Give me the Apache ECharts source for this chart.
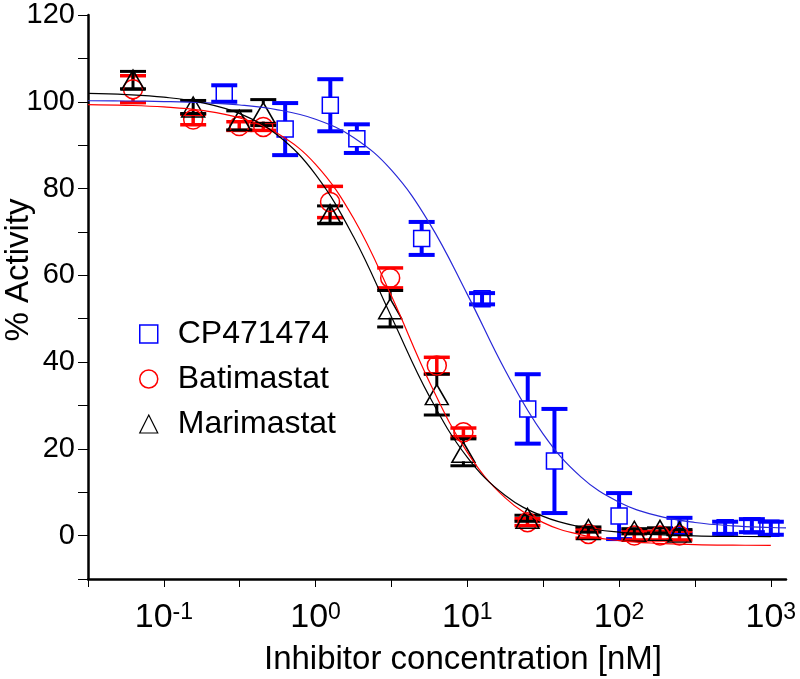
<!DOCTYPE html>
<html><head><meta charset="utf-8">
<script src="https://cdn.jsdelivr.net/npm/echarts@6/dist/echarts.min.js"></script>
<style>html,body{margin:0;padding:0;background:#fff}#chart{width:800px;height:679px}</style>
</head><body><div id="chart"></div>
<script>
// ---- data (concentration in nM, % activity, error) ----
const seriesNames = ['CP471474', 'Batimastat', 'Marimastat'];

const cpConc     = [0.25, 0.63, 1.25, 1.87, 5.0, 12.5, 25, 37.5, 100, 250, 500, 750, 1000];
const cpActivity = [101.9, 93.7, 99.2, 91.5, 68.5, 54.6, 29.2, 17.2, 4.5, 2.3, 1.8, 2.3, 1.7];
const cpError    = [1.9, 6.0, 6.0, 3.3, 3.8, 1.3, 8.0, 12.0, 5.3, 1.8, 1.4, 1.5, 1.5];

const batConc     = [0.0626, 0.156, 0.314, 0.452, 1.245, 3.10, 6.29, 9.42, 24.9, 62.8, 126, 186, 250];
const batActivity = [102.9, 95.9, 94.4, 94.2, 76.9, 59.4, 39.2, 23.8, 3.1, 0.4, 0.0, 0.0, 0.0];
const batError    = [3.1, 1.2, 1.0, 0.8, 3.6, 2.3, 1.9, 1.0, 0.8, 1.0, 1.0, 1.0, 1.0];

const marConc     = [0.0626, 0.156, 0.314, 0.452, 1.245, 3.10, 6.29, 9.42, 24.9, 62.8, 126, 186, 250];
const marActivity = [105.0, 98.8, 95.7, 97.5, 74.0, 52.3, 32.5, 19.2, 4.0, 1.4, 1.0, 1.2, 0.8];
const marError    = [2.0, 1.5, 2.2, 3.0, 2.0, 4.2, 4.7, 3.1, 0.7, 0.6, 0.6, 0.6, 0.6];

// fitted curves (x as log10 of concentration)
const cpFitLog  = [-1.5, -1.25, -1, -0.75, -0.5, -0.25, 0, 0.25, 0.5, 0.75, 1, 1.25, 1.5, 1.75, 2, 2.25, 2.5, 2.75, 3, 3.1];
const cpFit     = [100.24, 100.18, 100.05, 99.79, 99.25, 98.15, 95.98, 91.79, 84.23, 72.04, 55.61, 38.05, 23.40, 13.49, 7.70, 4.61, 3.03, 2.25, 1.87, 1.77];
const fitLog    = [-1.5, -1.25, -1, -0.75, -0.5, -0.25, 0, 0.25, 0.5, 0.75, 1, 1.25, 1.5, 1.75, 2, 2.25, 2.5, 2.75, 3];
const batFit    = [99.36, 99.19, 98.82, 98.02, 96.28, 92.67, 85.57, 73.14, 55.21, 35.43, 19.17, 8.71, 3.00, 0.18, -1.16, -1.78, -2.06, -2.19, -2.25];
const marFit    = [101.94, 101.66, 101.06, 99.81, 97.26, 92.27, 83.20, 68.87, 50.40, 32.09, 18.04, 9.26, 4.44, 1.99, 0.79, 0.22, -0.05, -0.18, -0.25];

// axis ticks
const xTickExponents  = [-1.5, -1, -0.5, 0, 0.5, 1, 1.5, 2, 2.5, 3];
const xLabelExponents = [-1, 0, 1, 2, 3];
const yTickValues  = [-10, 0, 10, 20, 30, 40, 50, 60, 70, 80, 90, 100, 110, 120];
const yLabelValues = [0, 20, 40, 60, 80, 100, 120];

// ---- styles ----
const FONT = "'Liberation Sans', Arial, sans-serif";
const BLUE = '#0000ff', RED = '#ff0000', BLACK = '#000000';

function errorBars(name, conc, vals, errs, color, width, gap) {
  return {
    type: 'custom', name: name + ' error', z: 2, silent: true, clip: false,
    encode: { x: 0, y: 1 },
    data: conc.map((c, i) => [Math.log10(c), vals[i], errs[i]]),
    renderItem(params, api) {
      const x = api.value(0), y = api.value(1), e = api.value(2);
      const c = api.coord([x, y]);
      const t = api.coord([x, y + e]);
      const b = api.coord([x, y - e]);
      const hw = 13;
      const style = { stroke: color, lineWidth: width, fill: null };
      const ch = [
        { type: 'line', shape: { x1: t[0] - hw, y1: t[1], x2: t[0] + hw, y2: t[1] }, style },
        { type: 'line', shape: { x1: b[0] - hw, y1: b[1], x2: b[0] + hw, y2: b[1] }, style }
      ];
      if (c[1] - t[1] > gap) {
        ch.push({ type: 'line', shape: { x1: c[0], y1: t[1], x2: c[0], y2: c[1] - gap }, style });
        ch.push({ type: 'line', shape: { x1: c[0], y1: c[1] + gap, x2: c[0], y2: b[1] }, style });
      } else {
        ch.push({ type: 'line', shape: { x1: c[0], y1: t[1], x2: c[0], y2: b[1] }, style });
      }
      return { type: 'group', children: ch };
    }
  };
}

function markers(name, conc, vals, symbol, size, color) {
  return {
    type: 'scatter', name, z: 3, silent: true,
    data: conc.map((c, i) => [Math.log10(c), vals[i]]),
    symbol, symbolSize: size,
    itemStyle: { color: 'rgba(255,255,255,0)', borderColor: color, borderWidth: 1.5, opacity: 1 }
  };
}

function fitLine(name, logs, vals, color) {
  return {
    type: 'line', name: name + ' fit', z: 4, silent: true,
    data: logs.map((l, i) => [l, vals[i]]),
    smooth: 0.4, showSymbol: false, symbol: 'none',
    lineStyle: { color, width: 1.2 }
  };
}

const chart = echarts.init(document.getElementById('chart'), null, { renderer: 'canvas' });
chart.setOption({
  animation: false,
  backgroundColor: '#ffffff',
  grid: { left: 88, right: 14, top: 15, bottom: 100, containLabel: false, outerBoundsMode: 'none' },
  legend: {
    orient: 'vertical', left: 134, top: 311, itemWidth: 18, itemHeight: 18, itemGap: 9,
    selectedMode: false,
    data: [
      { name: seriesNames[0], icon: 'rect', itemStyle: { color: 'rgba(255,255,255,0)', borderColor: BLUE, borderWidth: 1.5 } },
      { name: seriesNames[1], icon: 'circle', itemStyle: { color: 'rgba(255,255,255,0)', borderColor: RED, borderWidth: 1.5 } },
      { name: seriesNames[2], icon: 'triangle', itemStyle: { color: 'rgba(255,255,255,0)', borderColor: BLACK, borderWidth: 1.2 } }
    ],
    formatter: n => '{g|}' + n,
    textStyle: { fontSize: 32, fontFamily: FONT, color: '#000', lineHeight: 36, rich: { g: { width: 15 } } }
  },
  xAxis: {
    type: 'value', min: -1.5, max: 3.1, interval: 0.5,
    axisLine: { show: true, onZero: false, lineStyle: { color: '#000', width: 2.5 } },
    axisTick: { show: true, length: 8, customValues: xTickExponents, lineStyle: { color: '#000', width: 1 } },
    axisLabel: {
      customValues: xLabelExponents, margin: 22,
      formatter: v => '{b|10}{s|' + Math.round(v) + '}',
      rich: {
        b: { fontSize: 34, fontFamily: FONT, color: '#000', lineHeight: 34 },
        s: { fontSize: 23, fontFamily: FONT, color: '#000', verticalAlign: 'top', lineHeight: 16 }
      }
    },
    splitLine: { show: false },
    name: 'Inhibitor concentration [nM]', nameLocation: 'middle', nameGap: 64, nameMoveOverlap: false,
    nameTextStyle: { fontSize: 33, fontFamily: FONT, color: '#000', padding: [0, 0, 0, 52] }
  },
  yAxis: {
    type: 'value', min: -10, max: 120, interval: 10,
    axisLine: { show: true, onZero: false, lineStyle: { color: '#000', width: 2.5 } },
    axisTick: { show: true, length: 10, customValues: yTickValues, lineStyle: { color: '#000', width: 1 } },
    axisLabel: { customValues: yLabelValues, fontSize: 29, fontFamily: FONT, color: '#000', margin: 13 },
    splitLine: { show: false },
    name: '% Activity', nameLocation: 'middle', nameRotate: 90, nameGap: 53, nameMoveOverlap: false,
    nameTextStyle: { fontSize: 33, fontFamily: FONT, color: '#000', padding: [0, 0, 0, 54] }
  },
  series: [
    errorBars(seriesNames[0], cpConc, cpActivity, cpError, BLUE, 4, 8),
    errorBars(seriesNames[1], batConc, batActivity, batError, RED, 3.5, 9),
    errorBars(seriesNames[2], marConc, marActivity, marError, BLACK, 3, 9),
    markers(seriesNames[0], cpConc, cpActivity, 'rect', 16, BLUE),
    markers(seriesNames[1], batConc, batActivity, 'circle', 19, RED),
    markers(seriesNames[2], marConc, marActivity, 'triangle', [23, 20], BLACK),
    fitLine(seriesNames[0], cpFitLog, cpFit, '#2828d8'),
    fitLine(seriesNames[1], fitLog, batFit, RED),
    fitLine(seriesNames[2], fitLog, marFit, BLACK)
  ]
});
</script>
</body></html>
